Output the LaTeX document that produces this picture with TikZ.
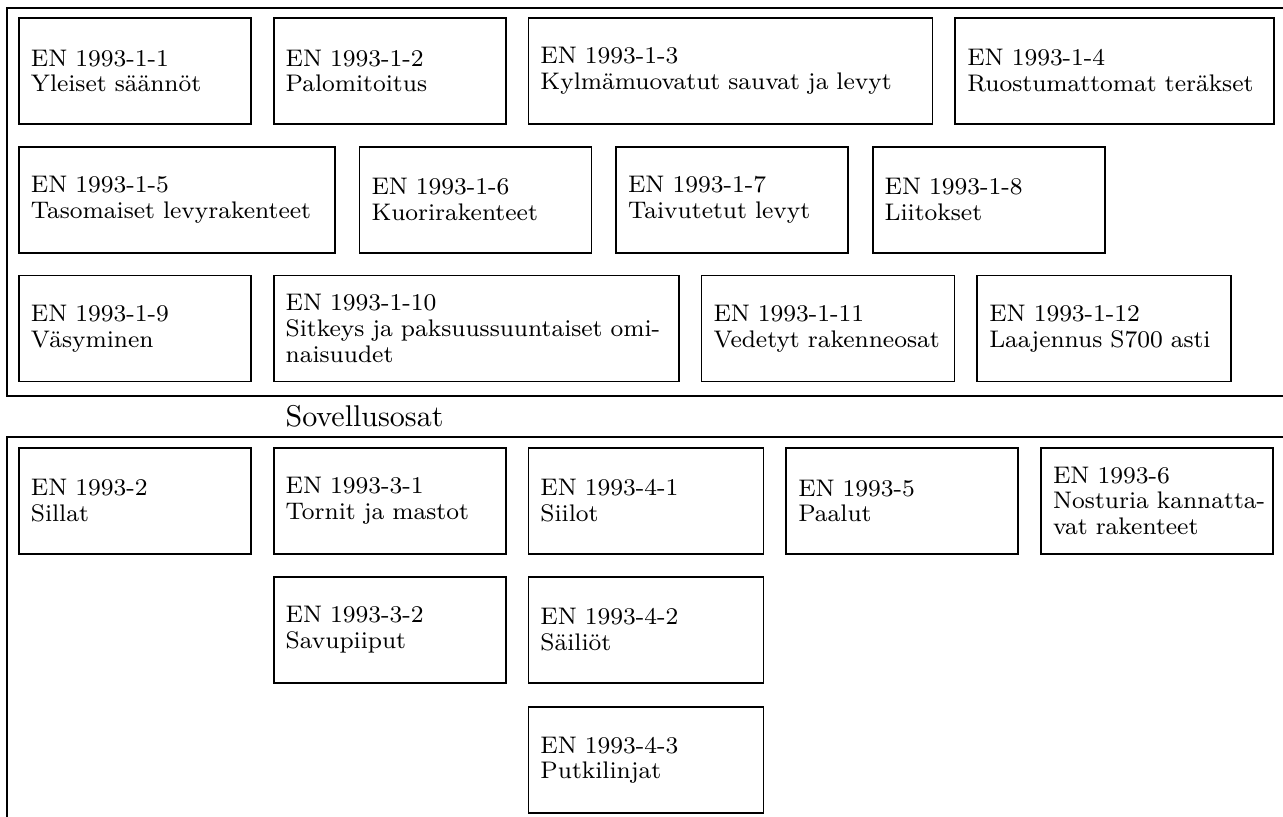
\documentclass[tikz,border=0pt]{standalone}
\usetikzlibrary{positioning}

\begin{document}
\begin{tikzpicture}[
    x=0.33333pt, y=-0.33333pt,
    part/.style={
        draw, line width=0.6pt, inner xsep=4pt, inner ysep=2pt,
        minimum height=35.33pt, text width=69.33pt,
        align=left, font=\fontsize{8}{8.6}\selectfont
    },
    frame/.style={draw, line width=0.6pt},
    lbl/.style={inner sep=0pt, anchor=base west, font=\normalsize},
    node distance=7pt and 7pt
]
\useasboundingbox (0,0) rectangle (1283,816);

% =============================================
% YLEISET OSAT: EN 1993-1-x
% =============================================
\draw[frame] (7,8) rectangle (1300,396);

\node[part, anchor=north west] (b11) at (18,17) {EN 1993-1-1\\Yleiset säännöt};
\node[part, right=of b11] (b12) {EN 1993-1-2\\Palomitoitus};
\node[part, text width=126.67pt, right=of b12] (b13) {EN 1993-1-3\\Kylmämuovatut sauvat ja levyt};
\node[part, text width=98.33pt, right=of b13] (b14) {EN 1993-1-4\\Ruostumattomat teräkset};

\node[part, text width=97.33pt, below=of b11.south west, anchor=north west] (b15) {EN 1993-1-5\\Tasomaiset levyrakenteet};
\node[part, right=7.6pt of b15] (b16) {EN 1993-1-6\\Kuorirakenteet};
\node[part, right=7.6pt of b16] (b17) {EN 1993-1-7\\Taivutetut levyt};
\node[part, right=7.6pt of b17] (b18) {EN 1993-1-8\\Liitokset};

\node[part, below=of b15.south west, anchor=north west] (b19) {EN 1993-1-9\\Väsyminen};
\node[part, text width=127pt, right=of b19] (b110) {EN 1993-1-10\\Sitkeys ja paksuussuuntaiset omi-\\naisuudet};
\node[part, text width=76.33pt, right=of b110] (b111) {EN 1993-1-11\\Vedetyt rakenneosat};
\node[part, text width=76.67pt, right=of b111] (b112) {EN 1993-1-12\\Laajennus S700 asti};

% =============================================
% SOVELLUSOSAT
% =============================================
\node[lbl] (sov) at (285,426) {Sovellusosat};
\draw[frame] (7,437) rectangle (1300,830);

\node[part, anchor=north west] (b2) at (18,447) {EN 1993-2\\Sillat};
\node[part, right=of b2] (b31) {EN 1993-3-1\\Tornit ja mastot};
\node[part, text width=70.33pt, right=of b31] (b41) {EN 1993-4-1\\Siilot};
\node[part, right=of b41] (b5) {EN 1993-5\\Paalut};
\node[part, right=of b5] (b6) {EN 1993-6\\\mbox{Nosturia kannatta-}\\vat rakenteet};

\node[part, below=of b31] (b32) {EN 1993-3-2\\Savupiiput};
\node[part, text width=70.33pt, below=of b41] (b42) {EN 1993-4-2\\Säiliöt};
\node[part, text width=70.33pt, below=7.6pt of b42] (b43) {EN 1993-4-3\\Putkilinjat};

\end{tikzpicture}
\end{document}
